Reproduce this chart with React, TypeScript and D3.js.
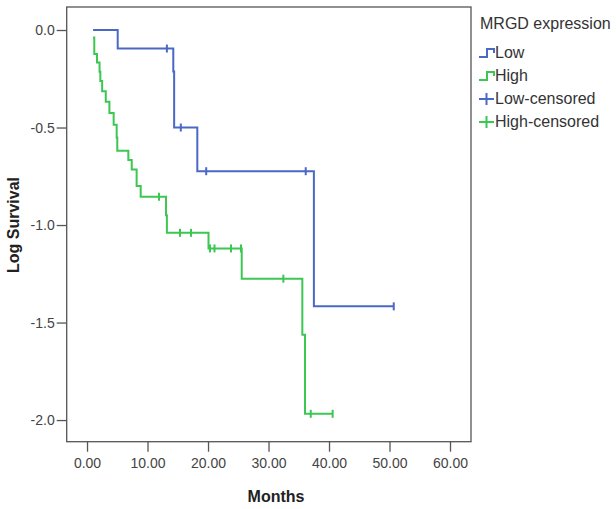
import React, { useEffect, useRef } from "react";
import * as d3 from "d3";

// Low group: event times (months) and log survival after each step
const lowTimes = [1.0, 5.07, 14.26, 14.4, 18.23, 37.5];
const lowLevels = [0, -0.095, -0.213, -0.5, -0.724, -1.417];
const lowCensored = [13.2, 15.5, 19.7, 36.15, 50.7];

// High group
const highTimes = [1.0, 1.2, 1.65, 2.07, 2.2, 2.5, 3.1, 3.7, 4.4, 4.9, 5.0, 6.83, 7.39, 8.2, 8.87, 13.06, 13.2, 20.08, 25.57, 35.59, 36.03];
const highLevels = [-0.039, -0.123, -0.167, -0.214, -0.262, -0.314, -0.368, -0.426, -0.486, -0.551, -0.619, -0.667, -0.715, -0.8, -0.855, -0.95, -1.04, -1.12, -1.275, -1.563, -1.968];
const highCensored = [11.9, 15.37, 17.19, 20.33, 21.07, 23.8, 25.45, 32.45, 36.98, 40.6];

const xTicks = [0, 10, 20, 30, 40, 50, 60];
const yTicks = [0, -0.5, -1, -1.5, -2];

const legendTitle = "MRGD expression";
const legendLabels = ["Low", "High", "Low-censored", "High-censored"];

const BLUE = "#4a68c6";
const GREEN = "#3cc652";
const FONT = "'Liberation Sans', Arial, sans-serif";

const App = () => {
  const ref = useRef<SVGSVGElement>(null);

  useEffect(() => {
    const svg = d3.select(ref.current);
    svg.selectAll("*").remove();

    const left = 66.7, right = 471, top = 7, bottom = 441.7;

    const x = d3.scaleLinear().domain([-3.36, 63.47]).range([left, right]);
    const y = d3.scaleLinear().domain([0.118, -2.111]).range([top, bottom]);

    // frame
    svg
      .append("rect")
      .attr("x", left)
      .attr("y", top)
      .attr("width", right - left)
      .attr("height", bottom - top)
      .attr("fill", "white")
      .attr("stroke", "#555")
      .attr("stroke-width", 1.3);

    // y axis (plain hyphen for negatives, like SPSS)
    const yAxis = svg
      .append("g")
      .attr("transform", `translate(${left},0)`)
      .call(
        d3
          .axisLeft(y)
          .tickValues(yTicks)
          .tickSize(10)
          .tickPadding(2)
          .tickFormat((d) => (+d).toFixed(1))
      );
    yAxis.select(".domain").remove();
    yAxis.selectAll("line").attr("stroke", "#555").attr("stroke-width", 1.3);
    yAxis
      .selectAll("text")
      .attr("font-family", FONT)
      .attr("font-size", 14)
      .attr("fill", "#444");

    // x axis
    const xAxis = svg
      .append("g")
      .attr("transform", `translate(0,${bottom})`)
      .call(
        d3
          .axisBottom(x)
          .tickValues(xTicks)
          .tickSize(10)
          .tickPadding(6)
          .tickFormat((d) => (+d).toFixed(2))
      );
    xAxis.select(".domain").remove();
    xAxis.selectAll("line").attr("stroke", "#555").attr("stroke-width", 1.3);
    xAxis
      .selectAll("text")
      .attr("font-family", FONT)
      .attr("font-size", 14)
      .attr("fill", "#444");

    // axis titles
    svg
      .append("text")
      .attr("x", 276)
      .attr("y", 502)
      .attr("text-anchor", "middle")
      .attr("font-family", FONT)
      .attr("font-size", 16)
      .attr("font-weight", "bold")
      .attr("fill", "#222")
      .text("Months");

    svg
      .append("text")
      .attr("transform", "translate(19,225) rotate(-90)")
      .attr("text-anchor", "middle")
      .attr("font-family", FONT)
      .attr("font-size", 16)
      .attr("font-weight", "bold")
      .attr("fill", "#222")
      .text("Log Survival");

    const line = d3
      .line<[number, number]>()
      .x((d) => x(d[0]))
      .y((d) => y(d[1]))
      .curve(d3.curveStepAfter);

    const levelAt = (times: number[], levels: number[], t: number) => {
      let v = levels[0];
      times.forEach((tt, i) => {
        if (tt <= t) v = levels[i];
      });
      return v;
    };

    const groups = [
      { times: lowTimes, levels: lowLevels, censored: lowCensored, color: BLUE },
      { times: highTimes, levels: highLevels, censored: highCensored, color: GREEN },
    ];

    groups.forEach((g) => {
      const pts: [number, number][] = g.times.map((t, i) => [t, g.levels[i]]);
      pts.push([d3.max(g.censored)!, g.levels[g.levels.length - 1]]);
      svg
        .append("path")
        .attr("d", line(pts))
        .attr("fill", "none")
        .attr("stroke", g.color)
        .attr("stroke-width", 2);

      svg
        .selectAll(null)
        .data(g.censored)
        .enter()
        .append("line")
        .attr("x1", (d) => x(d))
        .attr("x2", (d) => x(d))
        .attr("y1", (d) => y(levelAt(g.times, g.levels, d)) - 4)
        .attr("y2", (d) => y(levelAt(g.times, g.levels, d)) + 4)
        .attr("stroke", g.color)
        .attr("stroke-width", 2);
    });

    // legend
    const lg = svg.append("g").attr("font-family", FONT).attr("font-size", 16).attr("fill", "#333");
    lg.append("text").attr("x", 480).attr("y", 29).text(legendTitle);

    const rowY = [58, 81, 104, 127];
    legendLabels.forEach((label, i) => {
      const cy = rowY[i] - 5;
      const color = i % 2 === 0 ? BLUE : GREEN;
      if (i < 2) {
        lg.append("path")
          .attr("d", `M479,${cy + 4}H487V${cy - 4}H494V${cy}`)
          .attr("fill", "none")
          .attr("stroke", color)
          .attr("stroke-width", 2);
      } else {
        lg.append("path")
          .attr("d", `M479,${cy}H494M486.5,${cy - 6}V${cy + 6}`)
          .attr("fill", "none")
          .attr("stroke", color)
          .attr("stroke-width", 2);
      }
      lg.append("text").attr("x", 495).attr("y", rowY[i]).text(label);
    });
  }, []);

  return (
    <svg
      ref={ref}
      width={616}
      height={509}
      style={{ position: "absolute", left: 0, top: 0, background: "white" }}
    ></svg>
  );
};

export default App;
